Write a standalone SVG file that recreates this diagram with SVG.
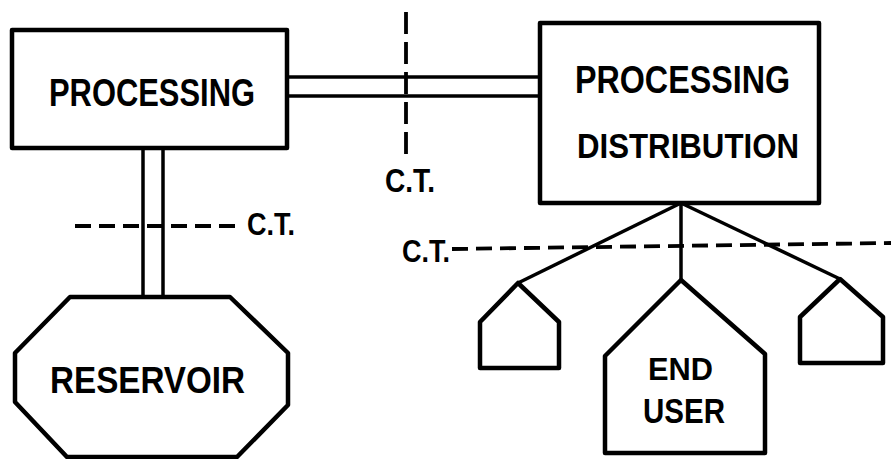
<svg xmlns="http://www.w3.org/2000/svg" width="891" height="459" viewBox="0 0 891 459">
<style>
.shape{fill:#fff;stroke:#000;stroke-width:4.5;stroke-linejoin:round}
.line{fill:none;stroke:#000;stroke-width:3.5}
.dash{fill:none;stroke:#000;stroke-width:3.8;stroke-dasharray:16 8}
.vdash{fill:none;stroke:#000;stroke-width:3.8;stroke-dasharray:22 8}
.t{font-family:"Liberation Sans",Arial,sans-serif;font-weight:700;fill:#000}
</style>
<rect width="891" height="459" fill="#fff"/>
<g id="connectors">
<line class="line" x1="287" y1="77" x2="540" y2="77"/>
<line class="line" x1="287" y1="96" x2="540" y2="96"/>
<line class="line" x1="143" y1="148" x2="143" y2="297"/>
<line class="line" x1="163" y1="148" x2="163" y2="297"/>
<line class="line" x1="681" y1="203" x2="518" y2="283"/>
<line class="line" x1="681" y1="203" x2="681" y2="280"/>
<line class="line" x1="681" y1="203" x2="840" y2="279"/>
</g>
<g id="cut-lines">
<line class="vdash" x1="406" y1="12" x2="406" y2="162"/>
<line class="dash" x1="75" y1="226" x2="240" y2="226"/>
<line class="dash" x1="452" y1="249" x2="891" y2="243"/>
<text class="t" x="385" y="192" font-size="34" textLength="50" lengthAdjust="spacingAndGlyphs">C.T.</text>
<text class="t" x="247" y="235" font-size="31" textLength="48" lengthAdjust="spacingAndGlyphs">C.T.</text>
<text class="t" x="402" y="262" font-size="32" textLength="48" lengthAdjust="spacingAndGlyphs">C.T.</text>
</g>
<g id="processing">
<rect class="shape" x="12" y="30" width="275" height="118"/>
<text class="t" x="49" y="106" font-size="38" textLength="206" lengthAdjust="spacingAndGlyphs">PROCESSING</text>
</g>
<g id="processing-distribution">
<rect class="shape" x="540" y="23" width="279" height="180"/>
<text class="t" x="575" y="93" font-size="38" textLength="215" lengthAdjust="spacingAndGlyphs">PROCESSING</text>
<text class="t" x="577" y="158" font-size="35" textLength="222" lengthAdjust="spacingAndGlyphs">DISTRIBUTION</text>
</g>
<g id="reservoir">
<polygon class="shape" points="70,297 230,297 288,353 288,405 237,457 67,457 15,402 15,353"/>
<text class="t" x="50" y="393" font-size="36" textLength="195" lengthAdjust="spacingAndGlyphs">RESERVOIR</text>
</g>
<g id="user-left">
<polygon class="shape" points="518,283 559,322 559,368 480,368 480,322"/>
</g>
<g id="end-user">
<polygon class="shape" points="681,280 765,354 765,453 605,453 605,356"/>
<text class="t" x="648" y="380" font-size="32" textLength="65" lengthAdjust="spacingAndGlyphs">END</text>
<text class="t" x="643" y="423" font-size="35" textLength="82" lengthAdjust="spacingAndGlyphs">USER</text>
</g>
<g id="user-right">
<polygon class="shape" points="840,279 883,317 883,363 800,363 800,317"/>
</g>
</svg>
